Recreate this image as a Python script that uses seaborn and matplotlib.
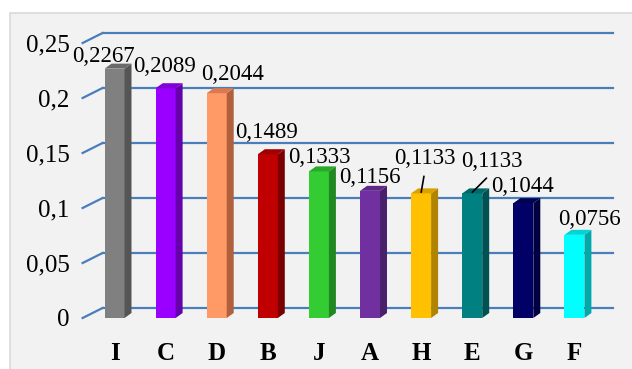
import matplotlib
matplotlib.use('Agg')
import matplotlib.pyplot as plt
import seaborn as sns
from matplotlib.patches import Polygon, Rectangle

categories = ['I', 'C', 'D', 'B', 'J', 'A', 'H', 'E', 'G', 'F']
values = [0.2267, 0.2089, 0.2044, 0.1489, 0.1333, 0.1156, 0.1133, 0.1133, 0.1044, 0.0756]
value_labels = ['0,2267', '0,2089', '0,2044', '0,1489', '0,1333', '0,1156', '0,1133', '0,1133', '0,1044', '0,0756']
y_ticks = [0, 0.05, 0.1, 0.15, 0.2, 0.25]
y_tick_labels = ['0', '0,05', '0,1', '0,15', '0,2', '0,25']

front_colors = ['#808080', '#9900ff', '#ff9966', '#c00000', '#33cc33',
                '#7030a0', '#ffc000', '#008080', '#000066', '#00ffff']
side_colors = ['#555555', '#6600aa', '#b0603d', '#7a0000', '#228822',
               '#4a1f6b', '#b08300', '#005252', '#000040', '#00aaaa']
top_colors = ['#6a6a6a', '#8000d8', '#d97a50', '#a00000', '#2aa82a',
              '#5e2888', '#d9a200', '#006a6a', '#000055', '#00d5d5']

# label offsets in pixels (dx, dy of baseline from bar front top-center), leader line flag
label_offsets = [(-11, 7), (-1, 16), (16, 13), (-1, 16), (0, 8), (0, 8),
                 (4, 28), (20, 25), (-1, 11), (15, 10)]
leaders = [False, False, False, False, False, False, True, True, False, False]

W, H = 632, 369
fig = plt.figure(figsize=(W / 100, H / 100), dpi=100)
fig.patch.set_facecolor('white')

bg = fig.add_axes([0, 0, 1, 1], zorder=-1)
bg.set_xlim(0, W)
bg.set_ylim(H, 0)
bg.axis('off')
bg.add_patch(Rectangle((10, 13), 640, 400, facecolor='#f2f2f2', edgecolor='#d9d9d9', lw=1.2))

left, right, bottom, top = 89, 600, 51, 326
ax = fig.add_axes([left / W, bottom / H, (right - left) / W, (top - bottom) / H])
ax.set_facecolor('none')
x0, x1 = -0.625, 9.355
ax.set_xlim(x0, x1)
ax.set_ylim(0, 0.25)
px_x = (right - left) / (x1 - x0)
px_y = (top - bottom) / 0.25

# back wall gridlines
back_dx, back_dy = 20 / px_x, 10 / px_y
back_end = x0 + (620 - left) / px_x
for yv in y_ticks:
    ax.plot([x0, x0 + back_dx], [yv, yv + back_dy], color='#4a7ebb', lw=1.6, clip_on=False, zorder=1)
    ax.plot([x0 + back_dx, back_end], [yv + back_dy, yv + back_dy], color='#4a7ebb', lw=1.6,
            clip_on=False, zorder=1)

sns.barplot(x=categories, y=values, hue=categories, palette=front_colors, width=0.39,
            saturation=1, legend=False, ax=ax, zorder=3)

sdx, sdy = 7 / px_x, 5 / px_y
for i, p in enumerate(list(ax.patches)):
    xl = p.get_x()
    xr = xl + p.get_width()
    h = p.get_height()
    p.set_edgecolor('none')
    ax.add_patch(Polygon([(xr, 0), (xr + sdx, sdy), (xr + sdx, h + sdy), (xr, h)],
                         closed=True, facecolor=side_colors[i], edgecolor='none', zorder=3))
    ax.add_patch(Polygon([(xl, h), (xr, h), (xr + sdx, h + sdy), (xl + sdx, h + sdy)],
                         closed=True, facecolor=top_colors[i], edgecolor='none', zorder=3,
                         clip_on=False))
    dx, dy = label_offsets[i]
    cx = xl + p.get_width() / 2
    if leaders[i]:
        ax.annotate(value_labels[i], xy=(cx, h + 1 / px_y),
                    xytext=(dx, dy), textcoords='offset pixels', ha='center', va='baseline',
                    fontsize=16.5, family='Liberation Serif', annotation_clip=False,
                    arrowprops=dict(arrowstyle='-', color='black', lw=1.2,
                                    shrinkA=3, shrinkB=0, relpos=(0.5, 0)))
    else:
        ax.annotate(value_labels[i], xy=(cx, h), xytext=(dx, dy), textcoords='offset pixels',
                    ha='center', va='baseline', fontsize=16.5, family='Liberation Serif',
                    annotation_clip=False)

for s in ax.spines.values():
    s.set_visible(False)
ax.set_yticks(y_ticks)
ax.set_yticklabels(y_tick_labels, family='Liberation Serif', fontsize=18)
ax.tick_params(axis='y', length=0, pad=14)
ax.tick_params(axis='x', length=0, pad=17)
for t in ax.get_xticklabels():
    t.set_family('Liberation Serif')
    t.set_fontweight('bold')
    t.set_fontsize(18)
ax.set_xlabel('')
ax.set_ylabel('')

fig.savefig('out.png', dpi=100)
